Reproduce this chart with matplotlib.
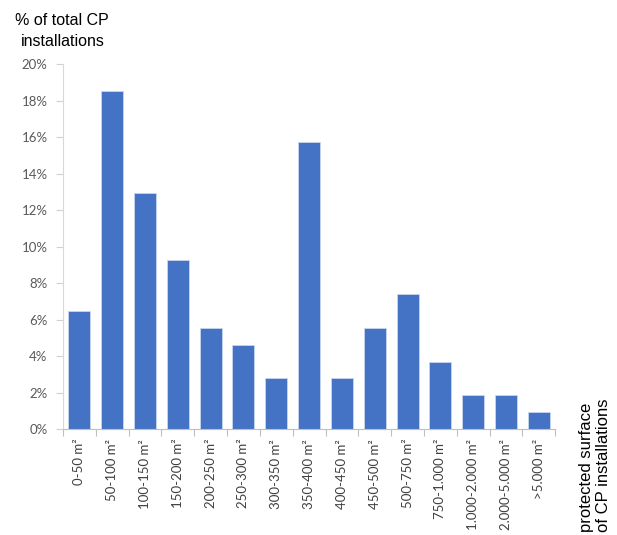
import matplotlib.pyplot as plt
import numpy as np

# share of CP installations per protected surface class (%)
classes = ["0-50 m²", "50-100 m²", "100-150 m²", "150-200 m²", "200-250 m²",
           "250-300 m²", "300-350 m²", "350-400 m²", "400-450 m²", "450-500 m²",
           "500-750 m²", "750-1.000 m²", "1.000-2.000 m²", "2.000-5.000 m²",
           ">5.000 m²"]
share = [6.48, 18.52, 12.96, 9.26, 5.56, 4.63, 2.78, 15.74, 2.78, 5.56,
         7.41, 3.70, 1.85, 1.85, 0.93]
yticks = [0, 2, 4, 6, 8, 10, 12, 14, 16, 18, 20]

fig = plt.figure(figsize=(6.17, 5.35), dpi=100)
ax = fig.add_axes([0.102, 0.198, 0.798, 0.682])

x = np.arange(len(classes))
ax.bar(x, share, width=0.67, color="#4472c4", edgecolor="#c9d6ee", linewidth=0.6)

ax.set_xlim(-0.5, len(classes) - 0.5)
ax.set_ylim(0, 20)
ax.set_yticks(yticks)
ax.set_yticklabels([f"{v}%" for v in yticks], fontfamily="Lato", fontsize=9.5,
                   color="#595959")

# x ticks sit between categories, labels centred under bars
ax.set_xticks(np.arange(len(classes) + 1) - 0.5)
ax.set_xticklabels([])
ax.set_xticks(x, minor=True)
ax.set_xticklabels(classes, minor=True, rotation=90, fontfamily="Lato",
                   fontsize=9.5, color="#404040")
ax.tick_params(axis="x", which="minor", length=0, pad=7)
ax.tick_params(axis="x", which="major", length=5, color="#bfbfbf", width=0.8)
ax.tick_params(axis="y", length=5, color="#d0d0d0", width=0.8, pad=6)

for s in ["top", "right"]:
    ax.spines[s].set_visible(False)
ax.spines["left"].set_color("#d9d9d9")
ax.spines["bottom"].set_color("#bfbfbf")
ax.spines["left"].set_linewidth(0.8)
ax.spines["bottom"].set_linewidth(0.8)

fig.text(0.101, 0.976, "% of total CP\ninstallations", ha="center", va="top",
         fontfamily="Liberation Sans", fontsize=11.5, linespacing=1.5)
fig.text(0.99, 0.005, "protected surface\nof CP installations", rotation=90,
         ha="right", va="bottom", fontfamily="Liberation Sans", fontsize=12,
         multialignment="left", linespacing=1.12)

fig.savefig("out.png", dpi=100)
